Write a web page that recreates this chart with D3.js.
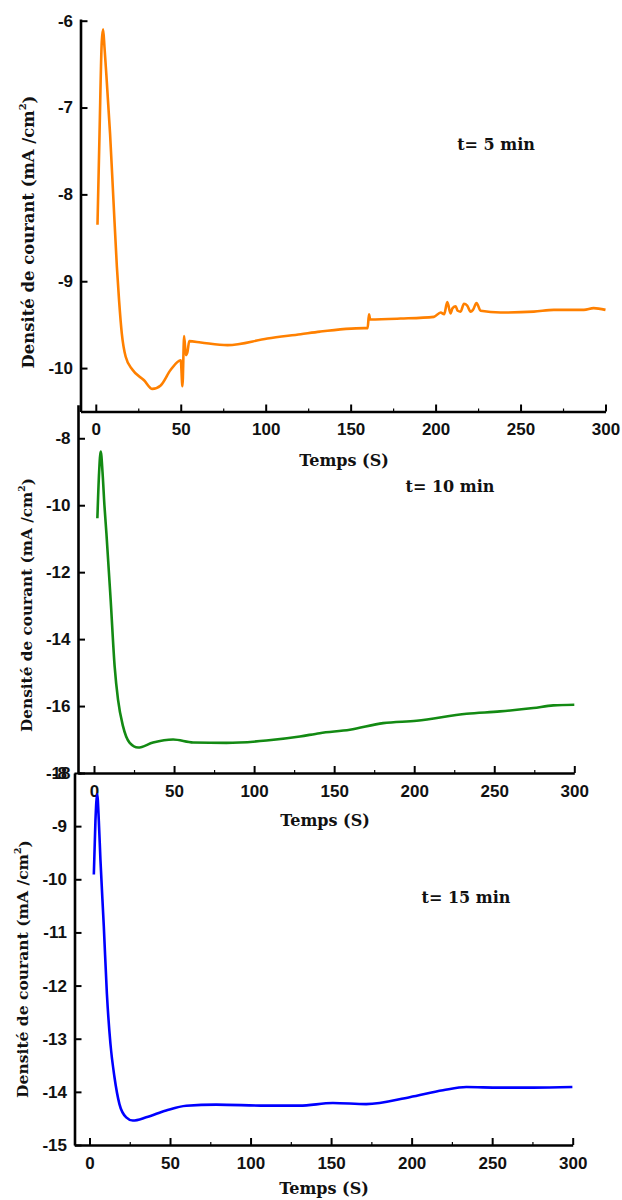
<!DOCTYPE html>
<html>
<head>
<meta charset="utf-8">
<script src="https://cdn.jsdelivr.net/npm/d3@7"></script>
<style>
  html, body { margin: 0; padding: 0; background: #fff; }
  svg { display: block; }
</style>
</head>
<body>
<svg id="chart" width="622" height="1200"></svg>
<script>
// ---------------- DATA ----------------
const xTickValues = [0, 50, 100, 150, 200, 250, 300];
const xMinorTickValues = [25, 75, 125, 175, 225, 275];

// t = 5 min (orange)
const time5 = [1, 2.2, 3.5, 4.3, 5.1, 5.9, 8.4, 10.4, 12.4, 13.7, 15.3, 17.6, 21.6, 28.4, 33.3, 38.2, 44.1, 50, 51, 52, 53, 54, 55, 61.8, 77.5, 101, 120.6, 132, 158, 160, 160.8, 161.5, 179.4, 199, 203, 205, 206.9, 208.8, 210, 211.8, 213, 214.7, 216.7, 218.6, 220.6, 222, 224.1, 226.5, 238.2, 257.8, 269.6, 287.3, 293, 300];
const current5 = [-8.35, -7.3, -6.25, -6.1, -6.3, -6.53, -7.3, -8.07, -8.83, -9.22, -9.6, -9.87, -10.02, -10.14, -10.24, -10.2, -10.02, -9.91, -10.21, -9.63, -9.85, -9.81, -9.69, -9.705, -9.736, -9.66, -9.61, -9.58, -9.54, -9.54, -9.38, -9.44, -9.43, -9.41, -9.36, -9.38, -9.24, -9.37, -9.31, -9.29, -9.34, -9.35, -9.26, -9.28, -9.35, -9.33, -9.25, -9.34, -9.36, -9.35, -9.33, -9.33, -9.31, -9.33];
const yTicks5 = [-10, -9, -8, -7, -6];

// t = 10 min (green)
const time10 = [2.1, 3.2, 4.2, 5.3, 6.5, 7.75, 10.4, 12.9, 15, 18.1, 22.3, 27.5, 36.9, 49.4, 61.9, 82.7, 107.7, 128.6, 141, 159.8, 180.6, 201.5, 232.7, 253.6, 274.4, 286.9, 300];
const current10 = [-10.39, -9.0, -8.4, -9.0, -10.0, -10.84, -12.83, -14.82, -15.81, -16.6, -17.1, -17.24, -17.09, -17.0, -17.09, -17.1, -17.03, -16.91, -16.81, -16.71, -16.51, -16.44, -16.23, -16.16, -16.06, -15.98, -15.96];
const yTicks10 = [-18, -16, -14, -12, -10, -8];

// t = 15 min (blue)
const time15 = [2.7, 3.7, 4.8, 5.8, 6.8, 8.9, 10.8, 13, 15.5, 18.6, 22.8, 26.9, 35.2, 47.6, 60.1, 78.7, 109.8, 130.4, 151.1, 171.8, 198.8, 219.5, 234, 254.7, 275.4, 299.8];
const current15 = [-9.91, -8.9, -8.4, -8.9, -9.63, -10.89, -12.15, -13.09, -13.72, -14.23, -14.48, -14.54, -14.48, -14.35, -14.26, -14.24, -14.26, -14.26, -14.21, -14.23, -14.1, -13.97, -13.91, -13.92, -13.92, -13.91];
const yTicks15 = [-15, -14, -13, -12, -11, -10, -9, -8];

const xTitle = "Temps (S)";
const yTitle = "Densité de courant (mA /cm";
const yTitleSup = "2";
const labels = ["t= 5 min", "t= 10 min", "t= 15 min"];

// ---------------- LAYOUT ----------------
const panels = [
  { time: time5, current: current5, yTicks: yTicks5, color: "#ff8000", label: labels[0],
    xDomain: [-9, 300], xRange: [80.5, 605.5], yDomain: [-10.5, -6], yRange: [411.5, 20.7],
    yTop: 19, yTitleX: 28, yTitleLen: 273, yTitleCy: 232, labelX: 496, labelY: 144, xTitleX: 344, xTitleY: 460 },
  { time: time10, current: current10, yTicks: yTicks10, color: "#138a13", label: labels[1],
    xDomain: [-10, 300], xRange: [78, 574.3], yDomain: [-18, -7], yRange: [773, 404.8],
    yTop: 404.8, yTitleX: 27, yTitleLen: 254, yTitleCy: 605, labelX: 450, labelY: 486, xTitleX: 325, xTitleY: 820 },
  { time: time15, current: current15, yTicks: yTicks15, color: "#0000ff", label: labels[2],
    xDomain: [-9.3, 300], xRange: [74.5, 572.7], yDomain: [-15, -8], yRange: [1145, 773],
    yTop: 773, yTitleX: 23, yTitleLen: 258, yTitleCy: 969, labelX: 466, labelY: 897, xTitleX: 324, xTitleY: 1188 }
];

const svg = d3.select("#chart");
const tickFont = "'Liberation Sans', Arial, sans-serif";
const serifFont = "'DejaVu Serif', serif";
const fmt = d => String(d);

panels.forEach(p => {
  const x = d3.scaleLinear().domain(p.xDomain).range(p.xRange);
  const y = d3.scaleLinear().domain(p.yDomain).range(p.yRange);
  const xAxisY = p.yRange[0];
  const yAxisX = p.xRange[0];
  const g = svg.append("g");

  // curve
  const pts = p.time.map((t, i) => [t, p.current[i]]);
  g.append("path")
    .datum(pts)
    .attr("fill", "none")
    .attr("stroke", p.color)
    .attr("stroke-width", 2.6)
    .attr("stroke-linejoin", "round")
    .attr("d", d3.line().x(d => x(d[0])).y(d => y(d[1])).curve(d3.curveMonotoneX));

  // x axis
  const xa = g.append("g").attr("transform", `translate(0,${xAxisY})`)
    .call(d3.axisBottom(x).tickValues(xTickValues).tickSizeInner(-7).tickSizeOuter(0).tickPadding(11.5).tickFormat(fmt));
  xa.attr("font-family", null).attr("font-size", null);
  xa.select(".domain").attr("stroke", "#000").attr("stroke-width", 2.6);
  xa.selectAll(".tick line").attr("stroke", "#000").attr("stroke-width", 2);
  xa.selectAll(".tick text").style("font-family", tickFont).style("font-weight", "bold").style("font-size", "17px").attr("fill", "#111");

  const xm = g.append("g").attr("transform", `translate(0,${xAxisY})`)
    .call(d3.axisBottom(x).tickValues(xMinorTickValues).tickSizeInner(-3).tickSizeOuter(0).tickFormat(""));
  xm.select(".domain").remove();
  xm.selectAll(".tick line").attr("stroke", "#000").attr("stroke-width", 1.2);

  // y axis
  const yScaleAxis = y.copy().domain([p.yDomain[0], y.invert(p.yTop)]).range([p.yRange[0], p.yTop]);
  const ya = g.append("g").attr("transform", `translate(${yAxisX},0)`)
    .call(d3.axisLeft(yScaleAxis).tickValues(p.yTicks).tickSizeInner(-7).tickSizeOuter(0).tickPadding(7.5).tickFormat(fmt));
  ya.attr("font-family", null).attr("font-size", null);
  ya.select(".domain").attr("stroke", "#000").attr("stroke-width", 2.6);
  ya.selectAll(".tick line").attr("stroke", "#000").attr("stroke-width", 2);
  ya.selectAll(".tick text").style("font-family", tickFont).style("font-weight", "bold").style("font-size", "17px").attr("fill", "#111");

  // x title
  g.append("text")
    .attr("x", p.xTitleX).attr("y", p.xTitleY).attr("dy", "0.35em")
    .attr("text-anchor", "middle")
    .style("font-family", serifFont).style("font-weight", "bold").style("font-size", "16px")
    .attr("fill", "#111")
    .text(xTitle);

  // y title
  const yt = g.append("text")
    .attr("transform", `translate(${p.yTitleX},${p.yTitleCy}) rotate(-90)`)
    .attr("dy", "0.35em")
    .attr("text-anchor", "middle")
    .style("font-family", serifFont).style("font-weight", "bold").style("font-size", "15px")
    .attr("fill", "#111");
  yt.append("tspan").text(yTitle);
  const sup = yt.append("tspan").style("font-size", "9px").attr("dy", "-0.8em").text(yTitleSup);
  yt.append("tspan").attr("dy", "0.55em").text(")");
  const len = yt.node().getComputedTextLength();
  const fs = 15 * p.yTitleLen / len;
  yt.style("font-size", fs + "px");
  sup.style("font-size", (fs * 0.6) + "px");

  // panel label
  g.append("text")
    .attr("x", p.labelX).attr("y", p.labelY).attr("dy", "0.35em")
    .attr("text-anchor", "middle")
    .style("font-family", serifFont).style("font-weight", "bold").style("font-size", "16px")
    .attr("fill", "#111")
    .text(p.label);
});
</script>
</body>
</html>
